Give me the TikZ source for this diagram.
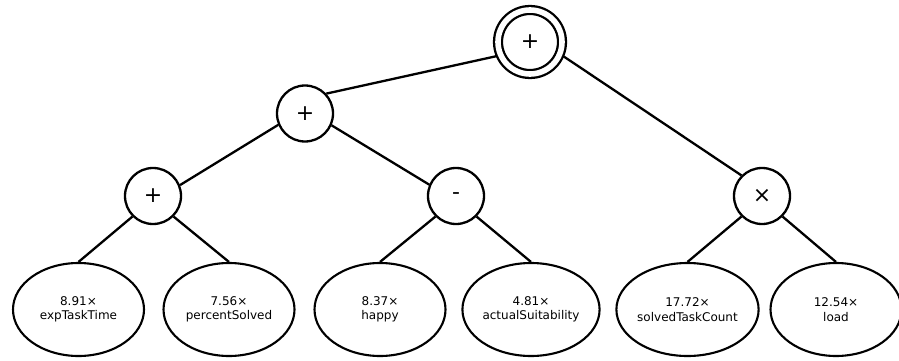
\documentclass[tikz,border=0pt]{standalone}
\usepackage{fontspec}
\setmainfont{DejaVu Sans}
\usetikzlibrary{shapes.geometric}
\begin{document}
\begin{tikzpicture}[x=1pt,y=-1pt,line width=2.3pt,
  opnode/.style={draw,circle,inner sep=0pt,minimum size=56pt,font=\fontsize{22}{22}\selectfont},
  rootnode/.style={draw,circle,double,double distance=5.6pt,inner sep=0pt,minimum size=64pt,outer sep=4pt,font=\fontsize{22}{22}\selectfont},
  leafnode/.style={draw,ellipse,inner sep=0pt,minimum width=131pt,minimum height=93pt,align=center,line width=2.1pt,font=\fontsize{12}{14.5}\selectfont},
  edge/.style={draw,line width=2.3pt}]
\useasboundingbox (0,0) rectangle (899,361);

% operator nodes
\node[rootnode] (root) at (530,42) {+};
\node[opnode] (p1) at (305,113.5) {+};
\node[opnode] (a) at (153,196) {+};
\node[opnode] (s) at (456,196) {-};
\node[opnode] (m) at (762,196) {×};

% weighted variables
\node[leafnode] (l1) at (78.5,309.5) {8.91×\\expTaskTime};
\node[leafnode] (l2) at (229,309.5) {7.56×\\percentSolved};
\node[leafnode] (l3) at (380,309.5) {8.37×\\happy};
\node[leafnode] (l4) at (531,309.5) {4.81×\\actualSuitability};
\node[leafnode] (l5) at (687.5,309.5) {17.72×\\solvedTaskCount};
\node[leafnode] (l6) at (836,309.5) {12.54×\\load};

% tree edges
\path[edge] (root.203) -- (p1.43);
\path[edge] (root.-23) -- (m.135);
\path[edge] (p1.203) -- (a.22);
\path[edge] (p1.-24) -- (s.157);
\path[edge] (a.225) -- (l1.north);
\path[edge] (a.-45) -- (l2.north);
\path[edge] (s.225) -- (l3.north);
\path[edge] (s.-45) -- (l4.north);
\path[edge] (m.225) -- (l5.north);
\path[edge] (m.-45) -- (l6.north);
\end{tikzpicture}
\end{document}
